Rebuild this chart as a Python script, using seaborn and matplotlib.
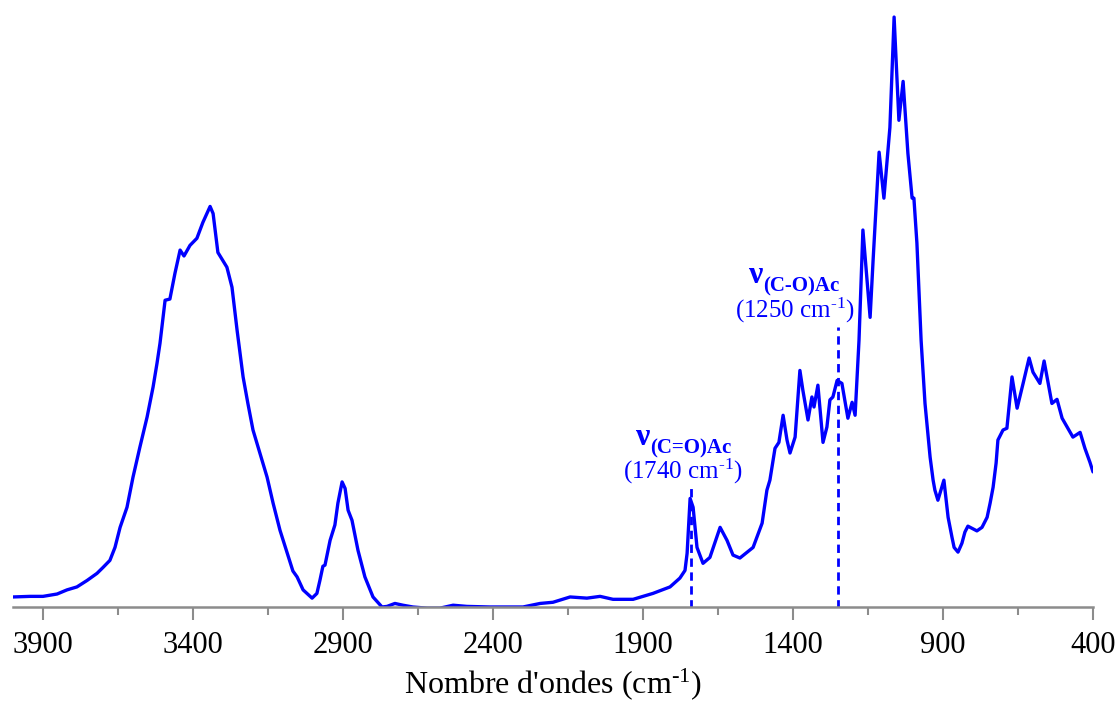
import numpy as np
import pandas as pd
import matplotlib
matplotlib.use("Agg")
import matplotlib.pyplot as plt
import seaborn as sns

# IR spectrum (wavenumber in cm-1, absorbance in a.u.)
wavenumber = [
    4000, 3943, 3900, 3853, 3820, 3787, 3753, 3720, 3700, 3677, 3660, 3643,
    3620, 3600, 3577, 3553, 3533, 3520, 3510, 3493, 3477, 3460, 3443, 3430,
    3410, 3387, 3367, 3343, 3333, 3317, 3287, 3270, 3253, 3243, 3233, 3217,
    3200, 3177, 3153, 3133, 3110, 3087, 3067, 3053, 3033, 3003, 2987, 2977,
    2967, 2960, 2943, 2927, 2917, 2903, 2893, 2883, 2870, 2850, 2827, 2800,
    2770, 2753, 2727, 2700, 2667, 2620, 2577, 2533, 2487, 2410, 2300, 2243,
    2200, 2143, 2087, 2043, 2000, 1933, 1867, 1810, 1777, 1760, 1753, 1743,
    1733, 1720, 1700, 1677, 1643, 1620, 1600, 1577, 1533, 1503, 1487, 1477,
    1460, 1447, 1433, 1420, 1410, 1393, 1377, 1367, 1350, 1337, 1330, 1317,
    1300, 1287, 1277, 1267, 1253, 1237, 1217, 1203, 1193, 1180, 1167, 1143,
    1133, 1113, 1097, 1077, 1063, 1047, 1033, 1017, 1003, 997, 987, 973,
    960, 943, 933, 927, 917, 897, 883, 870, 863, 850, 837, 827,
    817, 787, 770, 753, 743, 733, 723, 717, 700, 687, 670, 653,
    633, 613, 600, 577, 563, 537, 520, 503, 467, 443, 427, 410,
    400,
]
absorbance = [
    0.019, 0.020, 0.020, 0.024, 0.031, 0.036, 0.047, 0.059, 0.069, 0.081, 0.103, 0.137,
    0.171, 0.222, 0.273, 0.324, 0.375, 0.415, 0.449, 0.522, 0.524, 0.568, 0.607, 0.597,
    0.615, 0.627, 0.654, 0.681, 0.669, 0.603, 0.578, 0.544, 0.471, 0.432, 0.392, 0.347,
    0.302, 0.263, 0.222, 0.178, 0.132, 0.095, 0.063, 0.053, 0.031, 0.017, 0.025, 0.047,
    0.071, 0.073, 0.115, 0.141, 0.178, 0.214, 0.203, 0.166, 0.149, 0.098, 0.053, 0.019,
    0.002, 0.003, 0.008, 0.005, 0.002, 0.000, 0.000, 0.005, 0.003, 0.002, 0.002, 0.008,
    0.010, 0.019, 0.017, 0.020, 0.015, 0.015, 0.025, 0.036, 0.051, 0.064, 0.093, 0.186,
    0.171, 0.103, 0.076, 0.086, 0.137, 0.115, 0.090, 0.085, 0.103, 0.144, 0.200, 0.217,
    0.271, 0.281, 0.327, 0.285, 0.263, 0.290, 0.403, 0.369, 0.319, 0.358, 0.341, 0.378,
    0.281, 0.307, 0.353, 0.358, 0.386, 0.381, 0.322, 0.349, 0.327, 0.454, 0.641, 0.493,
    0.590, 0.773, 0.695, 0.815, 1.002, 0.827, 0.893, 0.771, 0.695, 0.695, 0.619, 0.454,
    0.347, 0.256, 0.217, 0.200, 0.183, 0.217, 0.154, 0.120, 0.103, 0.095, 0.110, 0.129,
    0.139, 0.131, 0.137, 0.154, 0.178, 0.205, 0.246, 0.285, 0.302, 0.305, 0.392, 0.339,
    0.381, 0.424, 0.400, 0.381, 0.419, 0.347, 0.354, 0.322, 0.290, 0.298, 0.271, 0.247,
    0.231,
]

# marked bands
band_pos = [1740, 1250]
band_top = [0.205, 0.476]
band_name = ["(C=O)Ac", "(C-O)Ac"]
nu_x = [1927, 1550]          # left edge of the nu symbol
sub_x = [1877, 1500]         # left edge of the subscript
nu_y = [0.276, 0.551]        # baseline of nu
sub_y = [0.263, 0.537]       # baseline of subscript
wn_x = [1768, 1395]          # centre of the "(xxxx cm-1)" line
wn_y = [0.220, 0.493]        # baseline of that line

df = pd.DataFrame({"wn": wavenumber, "A": absorbance})

sns.set_style("white")
plt.rcParams["font.family"] = ["Liberation Serif", "DejaVu Serif"]
plt.rcParams["mathtext.fontset"] = "custom"
plt.rcParams["mathtext.rm"] = "Liberation Serif"
plt.rcParams["mathtext.it"] = "Liberation Serif:italic"
plt.rcParams["mathtext.bf"] = "Liberation Serif:bold"

fig = plt.figure(figsize=(11.2, 7.04), dpi=100)
ax = fig.add_axes([0.0116, 0.1378, 0.9643, 0.848])

sns.lineplot(data=df, x="wn", y="A", color="#0000FF", linewidth=2.4, sort=False, ax=ax)
for line in ax.get_lines():
    line.set_solid_joinstyle("round")
    line.set_solid_capstyle("round")

blue = "#0000FF"
for i in range(len(band_pos)):
    ax.plot([band_pos[i], band_pos[i]], [0, band_top[i]], color=blue,
            linestyle=(0, (3, 2)), linewidth=2)
    ax.text(nu_x[i], nu_y[i], "ν", color=blue, fontsize=23, fontweight="bold",
            ha="left", va="baseline")
    ax.text(sub_x[i], sub_y[i], band_name[i], color=blue, fontsize=15, fontweight="bold",
            ha="left", va="baseline")
    ax.text(wn_x[i], wn_y[i], r"(%d cm$^{\text{-1}}$)" % band_pos[i], color=blue,
            fontsize=18, ha="center", va="baseline")

ax.set_xlim(4000, 400)
ax.set_ylim(0.002, 1.014)
ax.set_xticks(np.arange(3900, 399, -500))
ax.set_xticks(np.arange(3650, 399, -500), minor=True)
ax.set_yticks([])
ax.tick_params(axis="x", which="major", length=9, width=1.5, color="#8c8c8c",
               labelsize=22, labelcolor="black", pad=8, bottom=True)
ax.tick_params(axis="x", which="minor", length=6, width=1.5, color="#8c8c8c", bottom=True)
for s in ["top", "left", "right"]:
    ax.spines[s].set_visible(False)
ax.spines["bottom"].set_color("#8c8c8c")
ax.spines["bottom"].set_linewidth(1.8)
ax.set_xlabel(r"Nombre d'ondes (cm$^{\text{-1}}$)", fontsize=23, color="black", labelpad=5)
ax.set_ylabel("")

fig.savefig("out.png", dpi=100)
